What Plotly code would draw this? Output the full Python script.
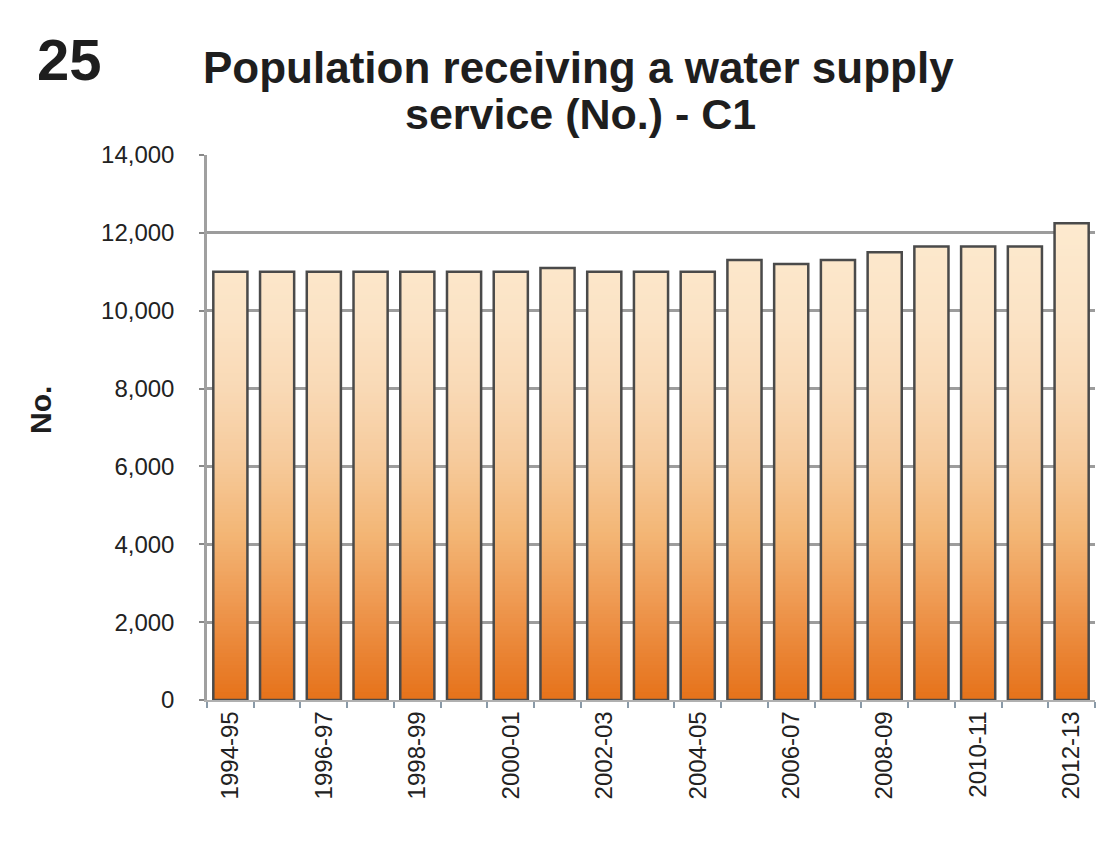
import math
import plotly.graph_objects as go
from plotly.colors import sample_colorscale

# Financial years on the category axis
years = [
    "1994-95", "1995-96", "1996-97", "1997-98", "1998-99", "1999-00",
    "2000-01", "2001-02", "2002-03", "2003-04", "2004-05", "2005-06",
    "2006-07", "2007-08", "2008-09", "2009-10", "2010-11", "2011-12",
    "2012-13",
]

# Population receiving a water supply service (No.)
population = [
    11000, 11000, 11000, 11000, 11000, 11000,
    11000, 11100, 11000, 11000, 11000, 11300,
    11200, 11300, 11500, 11650, 11650, 11650,
    12250,
]

# Only every second year is labelled under the axis
year_labels = [y if i % 2 == 0 else "" for i, y in enumerate(years)]

y_ticks = [0, 2000, 4000, 6000, 8000, 10000, 12000, 14000]

W, H = 1097, 844
M_L, M_R, M_T, M_B = 207, 2, 155, 144
PLOT_W = W - M_L - M_R
PLOT_H = H - M_T - M_B


def px_x(x):
    return (x - M_L) / PLOT_W


def px_y(y):
    return 1 + (M_T - y) / PLOT_H


# Vertical fill: deep orange at the base fading to pale peach at the top
fill_scale = [
    [0.00, "#e6721a"], [0.10, "#ea8434"], [0.22, "#ef9c55"],
    [0.35, "#f3b676"], [0.50, "#f6ca9b"], [0.65, "#f9d9b5"],
    [0.80, "#fbe3c5"], [1.00, "#fdeacf"],
]

fig = go.Figure()

band = 100
top = max(population)
for k in range(math.ceil(top / band)):
    lo = k * band
    heights = [max(0, v - lo) for v in population]
    color = sample_colorscale(fill_scale, min(1.0, (lo + band / 2) / top))[0]
    fig.add_trace(go.Bar(
        x=years, y=heights, base=lo,
        marker=dict(color=color, line=dict(width=0)),
        hoverinfo="skip", showlegend=False,
    ))

# Outline of each bar
fig.add_trace(go.Bar(
    x=years, y=population,
    marker=dict(color="rgba(0,0,0,0)", line=dict(color="#4a4a4a", width=2.5)),
    showlegend=False, name="Population",
))

tick_font = dict(family="Liberation Sans, Arial", size=24, color="#222222")

fig.update_layout(
    width=W, height=H,
    margin=dict(l=M_L, r=M_R, t=M_T, b=M_B, autoexpand=False),
    paper_bgcolor="white", plot_bgcolor="white",
    barmode="overlay", bargap=0.27,
    showlegend=False,
    xaxis=dict(
        type="category",
        tickmode="array", tickvals=years, ticktext=year_labels,
        tickson="boundaries",
        ticks="outside", ticklen=6, tickwidth=2, tickcolor="#8a9aa8",
        tickangle=-90, tickfont=tick_font,
        showline=True, linecolor="#b0b0b0", linewidth=1.5,
        showgrid=False,
    ),
    yaxis=dict(
        range=[0, 14000], tickvals=y_ticks, tickformat=",",
        ticks="outside", ticklen=5, tickwidth=2, tickcolor="#888888",
        ticklabelstandoff=20,
        tickfont=tick_font,
        showgrid=True, gridcolor="#9c9c9c", gridwidth=2.5,
        showline=True, linecolor="#a0a0a0", linewidth=2.5,
        zeroline=False,
    ),
    annotations=[
        dict(text="<b>25</b>", xref="paper", yref="paper",
             x=px_x(35), y=px_y(59), xanchor="left", yanchor="middle",
             showarrow=False,
             font=dict(family="Liberation Sans, Arial", size=58, color="#1e1e1e")),
        dict(text="<b>Population receiving a water supply</b>", xref="paper", yref="paper",
             x=px_x(578), y=px_y(67), xanchor="center", yanchor="middle",
             showarrow=False,
             font=dict(family="Liberation Sans, Arial", size=44, color="#1e1e1e")),
        dict(text="<b>service (No.) - C1</b>", xref="paper", yref="paper",
             x=px_x(580), y=px_y(114), xanchor="center", yanchor="middle",
             showarrow=False,
             font=dict(family="Liberation Sans, Arial", size=43, color="#1e1e1e")),
        dict(text="<b>No.</b>", xref="paper", yref="paper",
             x=px_x(40), y=px_y(410), xanchor="center", yanchor="middle",
             textangle=-90, showarrow=False,
             font=dict(family="Liberation Sans, Arial", size=30, color="#1e1e1e")),
    ],
)

fig.write_html("out.html")
